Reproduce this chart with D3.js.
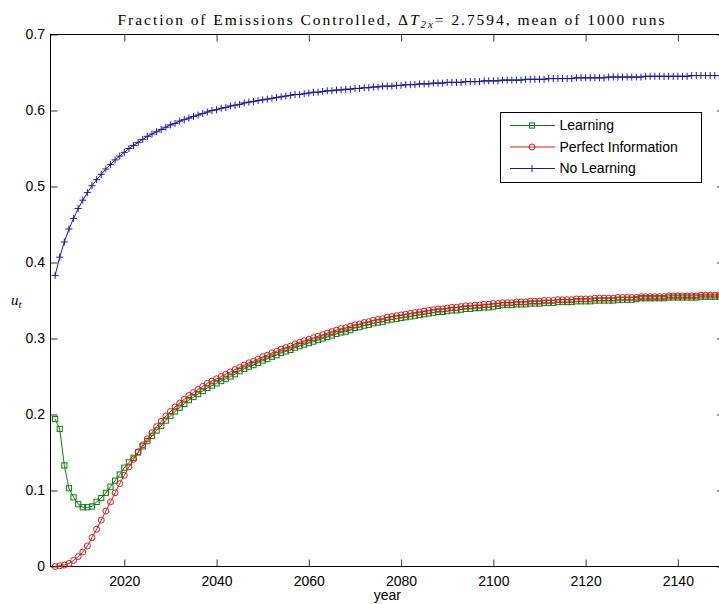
<!DOCTYPE html>
<html>
<head>
<meta charset="utf-8">
<script src="https://cdn.jsdelivr.net/npm/d3@7"></script>
<style>
  body { margin: 0; background: #fff; }
  svg { display: block; }
  .tick text { font-family: "Liberation Sans", Arial, sans-serif; font-size: 14px; fill: #000; }
</style>
</head>
<body>
<svg id="chart" width="719" height="604"></svg>
<script>
// Annual model years
const years = d3.range(2005, 2151);

// Fraction of emissions controlled, mean of 1000 runs (one value per year, 2005-2150)
const learning = [
  0.194, 0.181, 0.133, 0.103, 0.091, 0.082, 0.078, 0.078, 0.079, 0.085, // 2005
  0.090, 0.097, 0.105, 0.113, 0.121, 0.130, 0.137, 0.143, 0.150, 0.158, // 2015
  0.165, 0.172, 0.179, 0.185, 0.192, 0.198, 0.204, 0.209, 0.214, 0.219, // 2025
  0.223, 0.227, 0.231, 0.235, 0.238, 0.241, 0.244, 0.247, 0.250, 0.253, // 2035
  0.257, 0.260, 0.263, 0.265, 0.268, 0.271, 0.273, 0.276, 0.278, 0.281, // 2045
  0.283, 0.285, 0.288, 0.290, 0.292, 0.294, 0.296, 0.298, 0.300, 0.302, // 2055
  0.304, 0.306, 0.308, 0.309, 0.311, 0.314, 0.315, 0.317, 0.318, 0.320, // 2065
  0.321, 0.322, 0.324, 0.325, 0.326, 0.327, 0.328, 0.329, 0.330, 0.331, // 2075
  0.332, 0.333, 0.334, 0.335, 0.335, 0.336, 0.337, 0.337, 0.338, 0.339, // 2085
  0.339, 0.340, 0.340, 0.341, 0.341, 0.342, 0.343, 0.344, 0.344, 0.344, // 2095
  0.345, 0.345, 0.345, 0.346, 0.346, 0.346, 0.347, 0.347, 0.347, 0.348, // 2105
  0.348, 0.348, 0.348, 0.349, 0.349, 0.349, 0.349, 0.350, 0.350, 0.350, // 2115
  0.350, 0.350, 0.351, 0.351, 0.351, 0.351, 0.352, 0.353, 0.353, 0.353, // 2125
  0.353, 0.353, 0.353, 0.354, 0.354, 0.354, 0.354, 0.354, 0.354, 0.354, // 2135
  0.355, 0.355, 0.355, 0.355, 0.355, 0.355                              // 2145
];

const perfectInfo = [
  0.000, 0.001, 0.002, 0.004, 0.008, 0.013, 0.019, 0.027, 0.038, 0.049, // 2005
  0.061, 0.073, 0.085, 0.097, 0.109, 0.120, 0.131, 0.141, 0.151, 0.160, // 2015
  0.168, 0.176, 0.184, 0.191, 0.198, 0.204, 0.210, 0.215, 0.220, 0.225, // 2025
  0.229, 0.233, 0.237, 0.241, 0.244, 0.247, 0.250, 0.253, 0.256, 0.259, // 2035
  0.262, 0.265, 0.268, 0.270, 0.273, 0.276, 0.278, 0.281, 0.283, 0.286, // 2045
  0.288, 0.290, 0.293, 0.295, 0.297, 0.299, 0.301, 0.303, 0.305, 0.307, // 2055
  0.309, 0.311, 0.313, 0.314, 0.316, 0.318, 0.319, 0.321, 0.322, 0.324, // 2065
  0.325, 0.326, 0.328, 0.329, 0.330, 0.331, 0.332, 0.333, 0.334, 0.335, // 2075
  0.336, 0.337, 0.338, 0.339, 0.339, 0.340, 0.341, 0.341, 0.342, 0.343, // 2085
  0.343, 0.344, 0.344, 0.345, 0.345, 0.346, 0.346, 0.347, 0.347, 0.347, // 2095
  0.348, 0.348, 0.348, 0.349, 0.349, 0.349, 0.350, 0.350, 0.350, 0.351, // 2105
  0.351, 0.351, 0.351, 0.352, 0.352, 0.352, 0.352, 0.353, 0.353, 0.353, // 2115
  0.353, 0.353, 0.354, 0.354, 0.354, 0.354, 0.354, 0.355, 0.355, 0.355, // 2125
  0.355, 0.355, 0.355, 0.356, 0.356, 0.356, 0.356, 0.356, 0.356, 0.356, // 2135
  0.357, 0.357, 0.357, 0.357, 0.357, 0.357                              // 2145
];

const noLearning = [
  0.383, 0.407, 0.427, 0.444, 0.458, 0.471, 0.482, 0.492, 0.501, 0.509, // 2005
  0.516, 0.523, 0.529, 0.535, 0.540, 0.545, 0.550, 0.554, 0.558, 0.562, // 2015
  0.566, 0.569, 0.572, 0.575, 0.578, 0.581, 0.583, 0.586, 0.588, 0.590, // 2025
  0.592, 0.594, 0.596, 0.598, 0.600, 0.601, 0.603, 0.604, 0.606, 0.607, // 2035
  0.608, 0.610, 0.611, 0.612, 0.613, 0.614, 0.615, 0.616, 0.617, 0.618, // 2045
  0.619, 0.620, 0.621, 0.621, 0.622, 0.623, 0.624, 0.624, 0.625, 0.626, // 2055
  0.626, 0.627, 0.627, 0.628, 0.628, 0.629, 0.629, 0.630, 0.630, 0.631, // 2065
  0.631, 0.632, 0.632, 0.632, 0.633, 0.633, 0.634, 0.634, 0.634, 0.635, // 2075
  0.635, 0.635, 0.636, 0.636, 0.636, 0.637, 0.637, 0.637, 0.637, 0.638, // 2085
  0.638, 0.638, 0.638, 0.639, 0.639, 0.639, 0.639, 0.640, 0.640, 0.640, // 2095
  0.640, 0.640, 0.641, 0.641, 0.641, 0.641, 0.641, 0.642, 0.642, 0.642, // 2105
  0.642, 0.642, 0.642, 0.643, 0.643, 0.643, 0.643, 0.643, 0.643, 0.643, // 2115
  0.644, 0.644, 0.644, 0.644, 0.644, 0.644, 0.644, 0.644, 0.645, 0.645, // 2125
  0.645, 0.645, 0.645, 0.645, 0.645, 0.645, 0.645, 0.645, 0.646, 0.646, // 2135
  0.646, 0.646, 0.646, 0.646, 0.646, 0.646                              // 2145
];

const seriesNames = ["Learning", "Perfect Information", "No Learning"];
const seriesColors = ["#0c7d0c", "#d41c1c", "#1a1aa8"];
const seriesMarkers = ["square", "circle", "plus"];

const xTicks = [2020, 2040, 2060, 2080, 2100, 2120, 2140];
const yTicks = [0, 0.1, 0.2, 0.3, 0.4, 0.5, 0.6, 0.7];
const xDomain = [2004, 2150];
const yDomain = [0, 0.7];

// Layout
const plot = { left: 50.5, right: 724, top: 34.5, bottom: 566.5 };
const tickLen = 7;

const svg = d3.select("#chart");
const x = d3.scaleLinear().domain(xDomain).range([plot.left, plot.right]);
const y = d3.scaleLinear().domain(yDomain).range([plot.bottom, plot.top]);

// Axes with inward ticks on all four sides
const fmtY = d => d === 0 ? "0" : d3.format(".1f")(d);
function styleAxis(g) {
  g.select(".domain").remove();
  g.selectAll(".tick line").attr("stroke", "#333").attr("stroke-width", 1);
}
svg.append("g").attr("transform", `translate(0,${plot.bottom})`)
  .call(d3.axisBottom(x).tickValues(xTicks).tickFormat(d3.format("d")).tickSize(-tickLen).tickPadding(9.5))
  .call(styleAxis);
svg.append("g").attr("transform", `translate(0,${plot.top})`)
  .call(d3.axisTop(x).tickValues(xTicks).tickFormat("").tickSize(-tickLen))
  .call(styleAxis);
svg.append("g").attr("transform", `translate(${plot.left},0)`)
  .call(d3.axisLeft(y).tickValues(yTicks).tickFormat(fmtY).tickSize(-tickLen).tickPadding(5.5))
  .call(styleAxis);
svg.append("g").attr("transform", `translate(${plot.right},0)`)
  .call(d3.axisRight(y).tickValues(yTicks).tickFormat("").tickSize(-tickLen))
  .call(styleAxis);

// Axes box
svg.append("rect")
  .attr("x", plot.left).attr("y", plot.top)
  .attr("width", plot.right - plot.left).attr("height", plot.bottom - plot.top)
  .attr("fill", "none").attr("stroke", "#000").attr("stroke-width", 1);

// Marker drawing
function drawMarker(sel, kind, color) {
  if (kind === "square") {
    sel.append("rect").attr("x", -2.6).attr("y", -2.6).attr("width", 5.2).attr("height", 5.2)
      .attr("fill", "none").attr("stroke", color).attr("stroke-width", 1);
  } else if (kind === "circle") {
    sel.append("circle").attr("r", 3).attr("fill", "none").attr("stroke", color).attr("stroke-width", 1);
  } else {
    sel.append("path").attr("d", "M-3.5,0H3.5M0,-3.5V3.5")
      .attr("fill", "none").attr("stroke", color).attr("stroke-width", 1);
  }
}

const allSeries = [learning, perfectInfo, noLearning];
const line = d3.line().x(d => x(d.year)).y(d => y(d.value));

allSeries.forEach((vals, i) => {
  const data = years.map((yr, k) => ({ year: yr, value: vals[k] }));
  const g = svg.append("g").attr("class", "series");
  g.append("path").datum(data)
    .attr("d", line).attr("fill", "none")
    .attr("stroke", seriesColors[i]).attr("stroke-width", 1);
  g.selectAll("g.mk").data(data).join("g").attr("class", "mk")
    .attr("transform", d => `translate(${x(d.year)},${y(d.value)})`)
    .each(function () { drawMarker(d3.select(this), seriesMarkers[i], seriesColors[i]); });
});

// Title (serif, math-style symbol)
const title = svg.append("text")
  .attr("x", 391).attr("y", 24.5)
  .attr("text-anchor", "middle")
  .attr("font-family", "'Liberation Serif', 'DejaVu Serif', serif")
  .attr("font-size", 15.5)
  .attr("textLength", 547).attr("lengthAdjust", "spacing");
title.append("tspan").text("Fraction of Emissions Controlled, \u0394");
title.append("tspan").attr("font-style", "italic").text("T");
title.append("tspan").attr("font-size", 11).attr("font-style", "italic").attr("dy", 3).text("2x");
title.append("tspan").attr("dy", -3).text("= 2.7594, mean of 1000 runs");

// Axis labels
svg.append("text")
  .attr("x", (plot.left + plot.right) / 2).attr("y", 600)
  .attr("text-anchor", "middle")
  .attr("font-family", "'Liberation Sans', Arial, sans-serif").attr("font-size", 14)
  .text("year");

const yl = svg.append("text")
  .attr("x", 11).attr("y", 305)
  .attr("font-family", "'Liberation Serif', 'DejaVu Serif', serif").attr("font-size", 15)
  .attr("font-style", "italic");
yl.append("tspan").text("u");
yl.append("tspan").attr("font-size", 11).attr("dy", 3).text("t");

// Legend
const legend = { left: 500.5, right: 701.5, top: 112.5, bottom: 182.5 };
const rowY = [125.5, 147, 168.5];
svg.append("rect")
  .attr("x", legend.left).attr("y", legend.top)
  .attr("width", legend.right - legend.left).attr("height", legend.bottom - legend.top)
  .attr("fill", "#fff").attr("stroke", "#000").attr("stroke-width", 1);
seriesNames.forEach((name, i) => {
  const g = svg.append("g").attr("transform", `translate(0,${rowY[i]})`);
  g.append("line").attr("x1", 510).attr("x2", 555).attr("y1", 0).attr("y2", 0)
    .attr("stroke", seriesColors[i]).attr("stroke-width", 1);
  const m = g.append("g").attr("transform", "translate(532,0)");
  drawMarker(m, seriesMarkers[i], seriesColors[i]);
  g.append("text").attr("x", 559.5).attr("y", 0).attr("dy", "0.35em")
    .attr("font-family", "'Liberation Sans', Arial, sans-serif").attr("font-size", 14)
    .text(name);
});
</script>
</body>
</html>
